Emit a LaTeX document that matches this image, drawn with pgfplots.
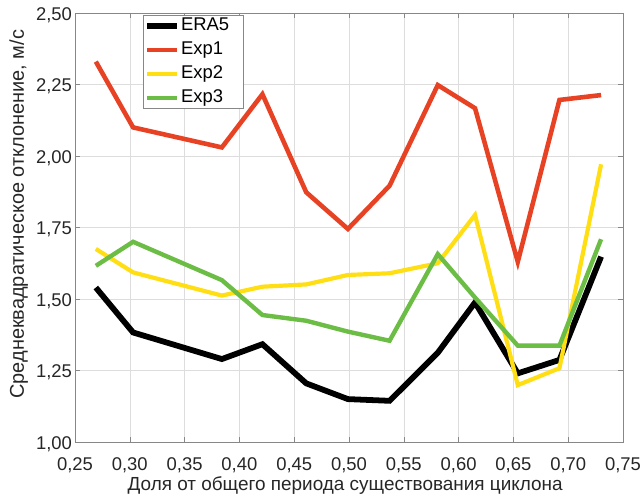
\documentclass[border=0pt]{standalone}
\usepackage{pgfplots}
\pgfplotsset{compat=1.18}
\usepackage{fontspec}
\setmainfont{Liberation Sans}
\definecolor{cRed}{RGB}{232,66,36}
\definecolor{cYel}{RGB}{255,222,20}
\definecolor{cGrn}{RGB}{108,189,69}
\definecolor{cAx}{RGB}{135,135,135}
\definecolor{cTxt}{RGB}{38,38,38}
\begin{document}
\begin{tikzpicture}
\begin{axis}[
  name=ax,
  scale only axis, width=548bp, height=429bp,
  xmin=0.25, xmax=0.75, ymin=1, ymax=2.5,
  xtick={0.25,0.30,0.35,0.40,0.45,0.50,0.55,0.60,0.65,0.70,0.75},
  ytick={1,1.25,1.5,1.75,2,2.25,2.5},
  ticklabel style={font=\fontsize{18.5}{21}\selectfont, text=cTxt,
    /pgf/number format/fixed, /pgf/number format/fixed zerofill,
    /pgf/number format/precision=2, /pgf/number format/use comma,
    /pgf/number format/assume math mode=true},
  xticklabel style={anchor=base, yshift=-28bp},
  yticklabel style={xshift=0.5pt, yshift=-2bp},
  grid=major, grid style={cAx!28, line width=0.5pt},
  axis line style={cAx, line width=0.8pt},
  tick align=inside, tick style={cAx, line width=0.6pt}, major tick length=5bp,
  xlabel style={font=\fontsize{19}{22}\selectfont, text=cTxt,
    at={(axis description cs:0.493,-0.1142)}, anchor=base},
  ylabel style={font=\fontsize{20}{23}\selectfont, text=cTxt,
    at={(axis description cs:-0.0931,0.531)}, anchor=base, rotate=0},
  xlabel={Доля от общего периода существования циклона},
  ylabel={Среднеквадратическое отклонение, м/с},
  legend style={at={(0.124,0.995)}, anchor=north west, draw=cAx, line width=0.6pt,
    font=\fontsize{18.5}{21}\selectfont, text=black, inner xsep=1pt, inner ysep=1pt,
    nodes={text height=13.5pt, text depth=4pt, inner sep=1pt}, row sep=4.5pt},
  legend cell align=left,
  legend image code/.code={\draw[#1] (0bp,0bp) -- (30bp,0bp);},
]
\addplot[black, line width=5.8pt, line join=miter] coordinates {
(0.269,1.540) (0.303,1.383) (0.384,1.290) (0.421,1.342) (0.461,1.205) (0.499,1.150)
(0.537,1.144) (0.581,1.312) (0.615,1.488) (0.654,1.240) (0.692,1.287) (0.730,1.648)};
\addlegendentry{ERA5\hspace*{12pt}}
\addplot[cRed, line width=4.6pt, line join=miter] coordinates {
(0.269,2.330) (0.303,2.100) (0.384,2.030) (0.421,2.216) (0.461,1.873) (0.499,1.745)
(0.537,1.896) (0.581,2.248) (0.615,2.167) (0.654,1.630) (0.692,2.196) (0.730,2.213)};
\addlegendentry{Exp1}
\addplot[cYel, line width=4.2pt, line join=miter] coordinates {
(0.269,1.675) (0.303,1.593) (0.384,1.512) (0.421,1.543) (0.461,1.551) (0.499,1.584)
(0.537,1.590) (0.581,1.625) (0.615,1.794) (0.654,1.199) (0.692,1.258) (0.730,1.971)};
\addlegendentry{Exp2}
\addplot[cGrn, line width=4.4pt, line join=miter] coordinates {
(0.269,1.616) (0.303,1.700) (0.384,1.566) (0.421,1.444) (0.461,1.424) (0.499,1.386)
(0.537,1.354) (0.581,1.657) (0.615,1.505) (0.654,1.337) (0.692,1.337) (0.730,1.709)};
\addlegendentry{Exp3}
\end{axis}
\pgfresetboundingbox
\path[use as bounding box] ([shift={(-75bp,-60bp)}]ax.south west) rectangle ([shift={(20bp,13bp)}]ax.north east);
\end{tikzpicture}
\end{document}
